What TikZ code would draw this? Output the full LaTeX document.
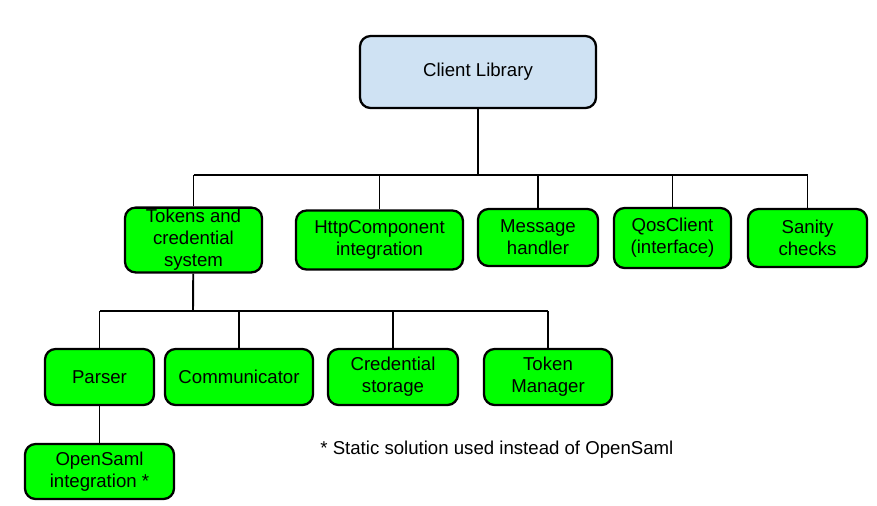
\documentclass[tikz,border=0pt]{standalone}
\usepackage{fontspec}
\setmainfont{Liberation Sans}
\definecolor{boxgreen}{HTML}{00FF00}
\definecolor{boxblue}{HTML}{CFE2F3}
\tikzset{
  part/.style={draw, line width=1.3pt, rounded corners=6pt, fill=boxgreen, align=center,
    font=\fontsize{10.6}{12.5}\selectfont, inner sep=1pt},
  wire/.style={line width=1.1pt}
}
\begin{document}
\begin{tikzpicture}[x=0.02cm, y=-0.02cm]
\useasboundingbox (0,0) rectangle (877,505);
\node[part, fill=boxblue, minimum width=236*0.02cm, minimum height=72*0.02cm] (client) at (478,72) {Client Library};
\node[part, minimum width=137*0.02cm, minimum height=61*0.02cm] (tokens) at (193.5,240) {Tokens and\\credential\\system};
\node[part, minimum width=167*0.02cm, minimum height=59*0.02cm] (http) at (379.5,240) {HttpComponent\\integration};
\node[part, minimum width=120*0.02cm, minimum height=57*0.02cm] (message) at (538,237.5) {Message\\handler};
\node[part, minimum width=117*0.02cm, minimum height=60*0.02cm] (qos) at (672.5,238) {QosClient\\(interface)};
\node[part, minimum width=119*0.02cm, minimum height=58*0.02cm] (sanity) at (807.5,238) {Sanity\\checks};
\node[part, minimum width=109*0.02cm, minimum height=56*0.02cm] (parser) at (99.5,377) {Parser};
\node[part, minimum width=148*0.02cm, minimum height=56*0.02cm] (communicator) at (239,377) {Communicator};
\node[part, minimum width=130*0.02cm, minimum height=56*0.02cm] (storage) at (393,377) {Credential\\storage};
\node[part, minimum width=128*0.02cm, minimum height=56*0.02cm] (manager) at (548,377) {Token\\Manager};
\node[part, minimum width=149*0.02cm, minimum height=55*0.02cm] (opensaml) at (99.5,471.5) {OpenSaml\\integration *};
\node[anchor=west, font=\fontsize{10.6}{12.5}\selectfont, inner sep=0pt] (note) at (320,450) {* Static solution used instead of OpenSaml};
\coordinate (bus1) at (478,175);
\coordinate (bus2) at (193,311);
\draw[wire] (client) -- (bus1);
\draw[wire] (tokens.north |- bus1) -- (sanity.north |- bus1);
\foreach \n in {tokens,http,message,qos,sanity}
  \draw[wire] (\n.north |- bus1) -- (\n.north);
\draw[wire] (tokens) -- (bus2);
\draw[wire] (parser.north |- bus2) -- (manager.north |- bus2);
\foreach \n in {parser,communicator,storage,manager}
  \draw[wire] (\n.north |- bus2) -- (\n.north);
\draw[wire] (parser) -- (opensaml);
\end{tikzpicture}
\end{document}
